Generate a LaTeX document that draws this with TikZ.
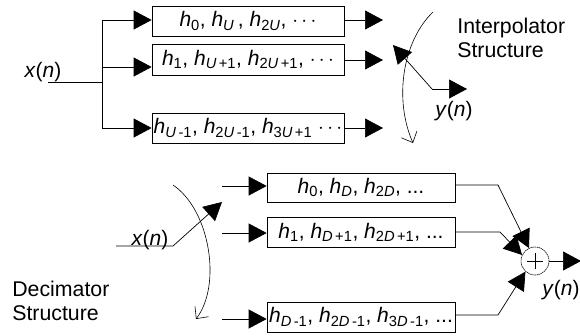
\documentclass[tikz,border=0pt]{standalone}
\usepackage{fontspec}
\setmainfont{Liberation Sans}
\usetikzlibrary{arrows.meta}
\newcommand\hs[1]{\textit{h}\textsubscript{#1}}
\newcommand\myU{\textit{U}}
\newcommand\myD{\textit{D}}
\begin{document}
\begin{tikzpicture}[x=1pt,y=-1pt,line width=0.7pt,
  every node/.style={font=\fontsize{21}{26}\selectfont, inner sep=0pt},
  lbl/.style={anchor=west, align=left, font=\fontsize{21.3}{24.5}\selectfont},
  tri/.style={-{Triangle[length=18pt,width=19pt]}},
  opn/.style={-{Straight Barb[length=9pt,width=17pt,line width=0.6pt]}, line width=0.6pt},
  fbox/.style={draw, rectangle, minimum height=30pt, inner xsep=1pt}]
\useasboundingbox (0,0) rectangle (580,335);
% ---------- Interpolator ----------
\node[fbox, minimum width=192pt] (tb1) at (248,21) {\hs{0}, \hs{\myU}\,, \hs{2\myU}, $\cdots$};
\node[fbox, minimum width=192pt, minimum height=31pt] (tb2) at (248,59.5) {\hs{1}, \hs{\myU\,+1}, \hs{2\myU\,+1}, $\cdots$};
\node[fbox, minimum width=192pt] (tb3) at (248,128) {\hs{\myU\,-1}, \hs{2\myU\,-1}, \hs{3\myU\,+1} $\cdots$};
\node (xT) at (43,72) {\textit{x}(\textit{n})};
\coordinate (inT) at (48,82);
\coordinate (busT) at (102,82);
\coordinate (s1) at (102,20);
\coordinate (s2) at (102,67);
\coordinate (s3) at (102,128);
\draw (inT) -- (busT);
\draw (s1) -- (s3);
\draw[tri] (s1) -- (s1 -| tb1.west);
\draw[tri] (s2) -- (s2 -| tb2.west);
\draw[tri] (s3) -- (s3 -| tb3.west);
\coordinate (o1) at (383,20);
\coordinate (o2) at (383,60);
\coordinate (o3) at (383,128);
\draw[tri] (o1 -| tb1.east) -- (o1);
\draw[tri] (o2 -| tb2.east) -- (o2);
\draw[tri] (o3 -| tb3.east) -- (o3);
\coordinate (ca) at (433,12);
\coordinate (cb) at (413,143);
\draw[opn] (ca) .. controls (402,42) and (394,100) .. (cb);
\coordinate (pk) at (432,89);
\coordinate (pt) at (393,45);
\coordinate (yo) at (467,89);
\draw[tri] (pk) -- (pt);
\draw[tri] (pk) -- (yo);
\node (yT) at (454,111) {\textit{y}(\textit{n})};
\node[lbl] (iT) at (457,38) {Interpolator\\Structure};
% ---------- Decimator ----------
\node[fbox, minimum width=188pt, minimum height=29pt] (bb1) at (361,187.5) {\hs{0}, \hs{\myD}, \hs{2\myD}, ...};
\node[fbox, minimum width=188pt] (bb2) at (361,232) {\hs{1}, \hs{\myD\,+1}, \hs{2\myD\,+1}, ...};
\node[fbox, minimum width=188pt] (bb3) at (361,317) {\hs{\myD\,-1}, \hs{2\myD\,-1}, \hs{3\myD\,-1}, ...};
\node (xB) at (150,240) {\textit{x}(\textit{n})};
\coordinate (inB) at (116,246);
\coordinate (kB) at (173,246);
\coordinate (tB) at (222,202);
\draw[tri] (inB) -- (kB) -- (tB);
\coordinate (da) at (173,185);
\coordinate (db) at (196,319);
\draw[opn] (da) .. controls (210,210) and (222,285) .. (db);
\coordinate (u1) at (222,186);
\coordinate (u2) at (222,233);
\coordinate (u3) at (222,319);
\draw[tri] (u1) -- (u1 -| bb1.west);
\draw[tri] (u2) -- (u2 -| bb2.west);
\draw[tri] (u3) -- (u3 -| bb3.west);
\node[draw, circle, minimum size=28pt, dash pattern=on 1.5pt off 0.6pt, line width=0.6pt] (sum) at (535,261) {};
\draw[line width=0.6pt] ([xshift=-8pt]sum.center) -- ([xshift=8pt]sum.center);
\draw[line width=0.6pt] ([yshift=-8pt]sum.center) -- ([yshift=8pt]sum.center);
\coordinate (v1) at (498,185);
\coordinate (v2) at (500,232);
\coordinate (v3) at (498,315);
\draw[tri] (v1 -| bb1.east) -- (v1) -- (sum.115);
\draw[tri] (v2 -| bb2.east) -- (v2) -- (sum.155);
\draw[tri] (v3 -| bb3.east) -- (v3) -- (sum.228);
\coordinate (yend) at (581,261);
\draw[tri] (sum.east) -- (yend);
\node[anchor=east] (yB) at (580,290) {\textit{y}(\textit{n})};
\node[lbl] (dS) at (12,301) {Decimator\\Structure};
\end{tikzpicture}
\end{document}
